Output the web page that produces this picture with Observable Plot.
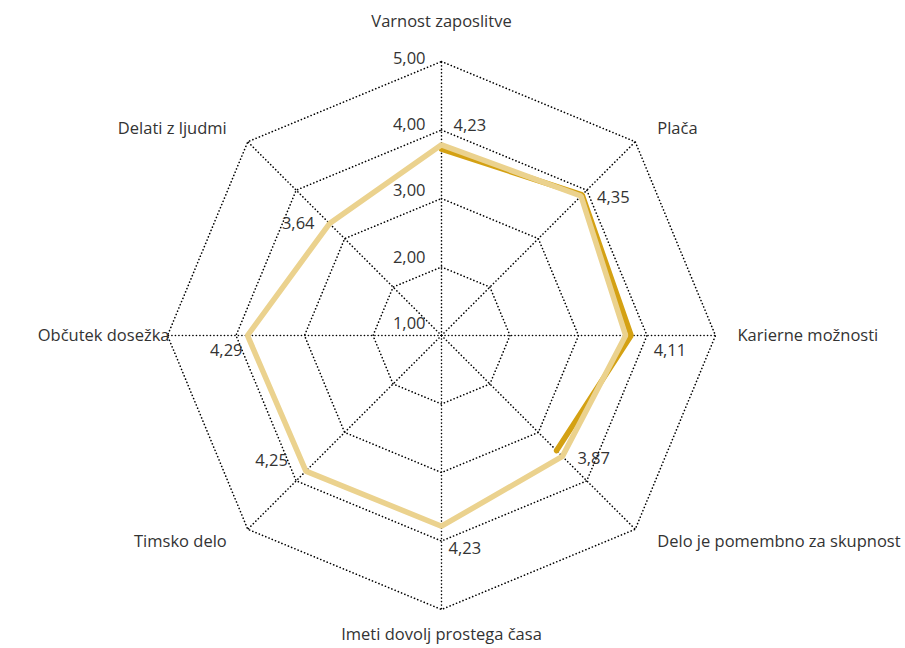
<!DOCTYPE html>
<html><head><meta charset="utf-8">
<script src="https://cdn.jsdelivr.net/npm/d3@7"></script>
<script src="https://cdn.jsdelivr.net/npm/@observablehq/plot@0.6"></script>
<style>body{margin:0;background:#fff}svg{display:block}</style>
</head><body><div id="chart"></div>
<script>
// ---- data ----
const categories = ["Varnost zaposlitve","Plača","Karierne možnosti","Delo je pomembno za skupnost","Imeti dovolj prostega časa","Timsko delo","Občutek dosežka","Delati z ljudmi"];
const valuesLight = [4.23, 4.35, 4.11, 3.87, 4.23, 4.25, 4.29, 3.64];
const valuesDark  = [4.15, 4.38, 4.21, 3.72, null, null, null, null];
const ringTicks = [1, 2, 3, 4, 5];

// ---- layout ----
const W = 905, H = 648, CX = 441, CY = 335, R = 274;
const n = categories.length;
const ang = i => i * 2 * Math.PI / n;
const ringScale = d3.scaleLinear([1, 5], [0, 1]);
const valueScale = d3.scaleLinear([0.75, 5.75], [0, 1]);
const px = p => p / R;
const fmt = v => d3.format(".2f")(v).replace(".", ",");
const pos = (i, rad) => ({x: rad * Math.sin(ang(i)), y: rad * Math.cos(ang(i))});

// value-label nudges (px) and anchors
const valueNudge = [
  {a:"start", dx:12, dy:-19}, {a:"start", dx:16, dy:2}, {a:"start", dx:28, dy:15}, {a:"start", dx:15, dy:2},
  {a:"start", dx:7, dy:23}, {a:"end", dx:-18, dy:-10}, {a:"end", dx:-5, dy:15}, {a:"end", dx:-15, dy:0}
];

const ringData = ringTicks.filter(t => t > 1).flatMap(t => categories.map((c, i) => ({t, ...pos(i, ringScale(t))})));
const spokes = categories.map((c, i) => ({...pos(i, 1)}));
const lightPts = valuesLight.map((v, i) => ({v, i, ...pos(i, valueScale(v))}));
const darkPts = valuesDark.map((v, i) => v == null ? {v, i, x: NaN, y: NaN} : ({v, i, ...pos(i, valueScale(v))}));

const valueLabels = lightPts.map(p => {
  const nd = valueNudge[p.i];
  return {text: fmt(p.v), anchor: nd.a, x: p.x + px(nd.dx), y: p.y - px(nd.dy)};
});
const tickLabels = ringTicks.map(t => ({text: fmt(t), x: px(-16), y: px(12) + ringScale(t) * px(265)}));
const catLabels = categories.map((c, i) => {
  const s = Math.sin(ang(i)), co = Math.cos(ang(i));
  const o = pos(i, 1);
  let anchor = "middle", dx = 0, dy = 0;
  if (Math.abs(s) < 1e-6) { dy = co > 0 ? -40 : 25; }
  else { anchor = s > 0 ? "start" : "end"; dx = s > 0 ? 22 : -21; dy = -18 * co; }
  if (i === 6) dx = 2;
  return {text: c, anchor, x: o.x + px(dx), y: o.y - px(dy)};
});

const dot = {stroke: "#000", strokeWidth: 1.6, strokeDasharray: "0.1 3.4", strokeLinecap: "round"};
const txt = {x: "x", y: "y", text: "text", fill: "#333", fontSize: 16.5, lineAnchor: "middle"};

const chart = Plot.plot({
  width: W, height: H, margin: 0,
  x: {domain: [-1, 1], range: [CX - R, CX + R], axis: null},
  y: {domain: [-1, 1], range: [CY + R, CY - R], axis: null},
  style: {fontFamily: "'Open Sans', sans-serif", background: "#fff"},
  marks: [
    Plot.line(ringData, {x: "x", y: "y", z: "t", curve: "linear-closed", ...dot}),
    Plot.link(spokes, {x1: () => 0, y1: () => 0, x2: "x", y2: "y", ...dot}),
    Plot.line(darkPts, {x: "x", y: "y", curve: "linear", stroke: "#D4A113", strokeWidth: 5.5, strokeLinejoin: "miter"}),
    Plot.line(lightPts, {x: "x", y: "y", curve: "linear-closed", stroke: "#EBD28E", strokeWidth: 5.5, strokeLinejoin: "miter"}),
    Plot.text(tickLabels, {...txt, textAnchor: "end"}),
    Plot.text(valueLabels.filter(d => d.anchor === "start"), {...txt, textAnchor: "start"}),
    Plot.text(valueLabels.filter(d => d.anchor === "end"), {...txt, textAnchor: "end"}),
    Plot.text(catLabels.filter(d => d.anchor === "start"), {...txt, textAnchor: "start"}),
    Plot.text(catLabels.filter(d => d.anchor === "end"), {...txt, textAnchor: "end"}),
    Plot.text(catLabels.filter(d => d.anchor === "middle"), {...txt, textAnchor: "middle"})
  ]
});
document.getElementById("chart").appendChild(chart);
</script></body></html>
